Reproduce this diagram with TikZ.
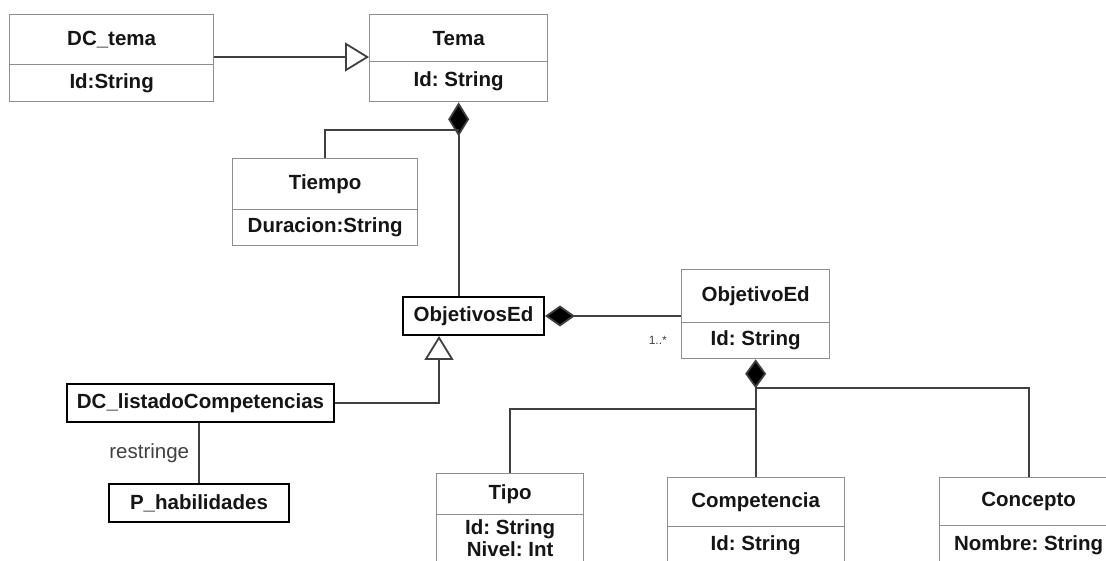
\documentclass[tikz,border=0pt]{standalone}
\usepackage{fontspec}
\setmainfont{Liberation Sans}
\usetikzlibrary{arrows.meta,calc}
\definecolor{boxgray}{HTML}{8E8E8E}
\definecolor{linegray}{HTML}{404040}
\definecolor{ink}{HTML}{151515}
\frenchspacing
\begin{document}
\begin{tikzpicture}[x=1pt,y=-1pt,
  compart/.style={draw=boxgray, line width=1.3pt, inner sep=0pt, anchor=north west,
    text=ink, font=\fontsize{20.5}{22}\selectfont\bfseries, align=center},
  single/.style={draw=black, line width=2pt, inner sep=0pt, anchor=north west,
    text=ink, font=\fontsize{20.5}{22}\selectfont\bfseries},
  conn/.style={draw=linegray, line width=1.8pt},
  gen/.style={conn, -{Triangle[open, length=24pt, width=29pt, line width=1.8pt, fill=white]}},
  comp/.style={conn, -{Diamond[length=#1, width=21pt, fill=black]}},
  mult/.style={text=linegray, font=\fontsize{12}{14}\selectfont, inner sep=0pt},
  role/.style={text=linegray, font=\fontsize{20.5}{23}\selectfont}
]
\useasboundingbox (0,0) rectangle (1106,561);
\clip (0,0) rectangle (1106,561);

% ---- classes with two compartments ----
\node[compart, minimum width=204pt, minimum height=50pt] (dctT) at (9,14) {DC\_tema};
\node[compart, minimum width=204pt, minimum height=37pt] (dctA) at (9,64) {Id:String};

\node[compart, minimum width=178pt, minimum height=47pt] (temaT) at (369,14) {Tema};
\node[compart, minimum width=178pt, minimum height=40pt] (temaA) at (369,61) {Id: String};

\node[compart, minimum width=185pt, minimum height=51pt] (tiempoT) at (232,158) {Tiempo};
\node[compart, minimum width=185pt, minimum height=36pt] (tiempoA) at (232,209) {Duracion:String};

\node[compart, minimum width=148pt, minimum height=53pt] (objT) at (681,269) {ObjetivoEd};
\node[compart, minimum width=148pt, minimum height=36pt] (objA) at (681,322) {Id: String};

\node[compart, minimum width=147pt, minimum height=41pt] (tipoT) at (436,473) {Tipo};
\node[compart, minimum width=147pt, minimum height=47pt] (tipoA) at (436,514) {Id: String\\Nivel: Int};

\node[compart, minimum width=177pt, minimum height=49pt] (compT) at (666.5,477) {Competencia};
\node[compart, minimum width=177pt, minimum height=38pt] (compA) at (666.5,526) {Id: String};

\node[compart, minimum width=178pt, minimum height=48pt] (concT) at (939,477) {Concepto};
\node[compart, minimum width=178pt, minimum height=40pt] (concA) at (939,525) {Nombre: String};

% ---- single-compartment classes ----
\node[single, minimum width=141pt, minimum height=38pt] (objs) at (402,296) {ObjetivosEd};
\node[single, minimum width=267pt, minimum height=38pt] (dcl) at (66,383) {DC\_listadoCompetencias};
\node[single, minimum width=180pt, minimum height=38pt] (ph) at (108,483) {P\_habilidades};

% ---- generalisations ----
\draw[gen] ([yshift=-43pt]dctT.north east) -- ([yshift=-43pt]temaT.north west);
\coordinate (objsTip) at ([xshift=-34.5pt]objs.south);
\draw[gen] (dcl.east) -| (objsTip);

% ---- Tema composition ----
\draw[comp=34pt] (temaA.south |- objs.north) -- (temaA.south);
\draw[conn] (tiempoT.north) |- ($(temaA.south)+(0,28)$);

% ---- ObjetivosEd composition ----
\draw[comp=30pt] (objT.west |- objs.east) -- (objs.east);
\node[mult, anchor=east] (multObj) at ($(objT.west |- objA.west)+(-14,0)$) {1..*};

% ---- restringe association ----
\draw[conn] (ph.north |- dcl.south) -- node[role, left, inner sep=0pt, xshift=-9pt] (restr) {restringe} (ph.north);

% ---- ObjetivoEd composition ----
\draw[comp=29pt] (objA.south |- compT.north) -- (objA.south);
\draw[conn] (tipoT.north) |- ($(objA.south)+(0,50)$);
\draw[conn] (concT.north) |- ($(objA.south)+(0,29)$);
\end{tikzpicture}
\end{document}
